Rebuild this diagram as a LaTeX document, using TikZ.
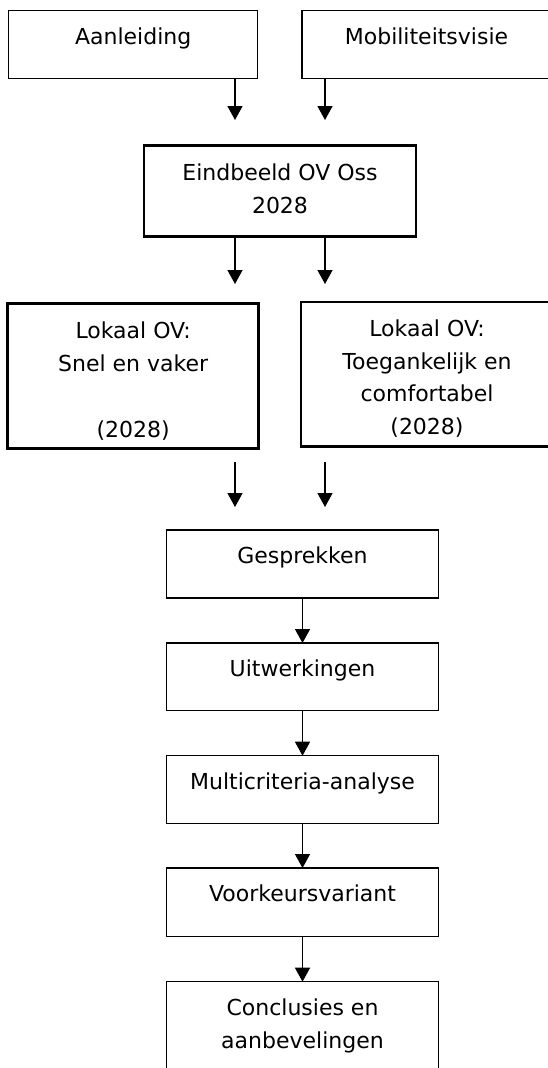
\documentclass[tikz,border=0pt]{standalone}
\usepackage{fontspec}
\setmainfont{DejaVu Sans}
\usetikzlibrary{arrows.meta}
\begin{document}
\begin{tikzpicture}[x=1pt,y=-1pt,
  thinbox/.style={draw, line width=1.4pt, inner sep=0pt, outer sep=0pt, anchor=north west},
  thickbox/.style={draw, line width=2.6pt, inner sep=0pt, outer sep=0pt, anchor=north west},
  lbl/.style={anchor=base, inner sep=0pt, font=\fontsize{22}{33}\selectfont},
  arr/.style={line width=1.4pt, -{Triangle[width=15pt,length=14pt]}}]
\useasboundingbox (0,0) rectangle (548,1068);
\clip (0,0) rectangle (548,1068);
% boxes
\node[thinbox, minimum width=249pt, minimum height=68pt] (aan) at (8.7,10.7) {};
\node[thinbox, minimum width=249pt, minimum height=68pt] (mob) at (302,10.7) {};
\node[thickbox, minimum width=272pt, minimum height=91pt] (ein) at (144,145.7) {};
\node[thickbox, minimum width=251pt, minimum height=145pt] (lok1) at (7.7,303.3) {};
\node[thickbox, minimum width=251pt, minimum height=144.7pt] (lok2) at (301,302) {};
\node[thinbox, minimum width=271.6pt, minimum height=68pt] (ges) at (166.7,530) {};
\node[thinbox, minimum width=271.6pt, minimum height=67.7pt] (uit) at (166.7,643) {};
\node[thinbox, minimum width=271.6pt, minimum height=67.6pt] (mca) at (166.7,755.7) {};
\node[thinbox, minimum width=271.6pt, minimum height=68.7pt] (vkv) at (166.7,868) {};
\node[thinbox, minimum width=271.6pt, minimum height=110pt] (con) at (166.7,981.7) {};
% texts
\node[lbl] (taan) at (133.2,44.3) {Aanleiding};
\node[lbl] (tmob) at (426.5,44.3) {Mobiliteitsvisie};
\node[lbl] (tein1) at (280,180) {Eindbeeld OV Oss};
\node[lbl] (tein2) at (280,213.3) {2028};
\node[lbl] (tl1a) at (133.2,338.3) {Lokaal OV:};
\node[lbl] (tl1b) at (133.2,371.5) {Snel en vaker};
\node[lbl] (tl1c) at (133.2,437.5) {(2028)};
\node[lbl] (tl2a) at (427,336.7) {Lokaal OV:};
\node[lbl] (tl2b) at (427,369.3) {Toegankelijk en};
\node[lbl] (tl2c) at (427,401.7) {comfortabel};
\node[lbl] (tl2d) at (427,434) {(2028)};
\node[lbl] (tges) at (302.5,563.3) {Gesprekken};
\node[lbl] (tuit) at (302.5,676.3) {Uitwerkingen};
\node[lbl] (tmca) at (302.5,789) {Multicriteria-analyse};
\node[lbl] (tvkv) at (302.5,901.5) {Voorkeursvariant};
\node[lbl] (tcon1) at (302.5,1015) {Conclusies en};
\node[lbl] (tcon2) at (302.5,1048) {aanbevelingen};
% free arrow ends
\coordinate (a1) at (235,120);
\coordinate (a2) at (325,120);
\coordinate (b1) at (235,284);
\coordinate (b2) at (325,284);
\coordinate (c1s) at (235,462);
\coordinate (c1e) at (235,507);
\coordinate (c2s) at (325,462);
\coordinate (c2e) at (325,507);
% arrows
\draw[arr] (aan.south -| a1) -- (a1);
\draw[arr] (mob.south -| a2) -- (a2);
\draw[arr] (ein.south -| b1) -- (b1);
\draw[arr] (ein.south -| b2) -- (b2);
\draw[arr] (c1s) -- (c1e);
\draw[arr] (c2s) -- (c2e);
\draw[arr] (ges) -- (uit);
\draw[arr] (uit) -- (mca);
\draw[arr] (mca) -- (vkv);
\draw[arr] (vkv) -- (con);
\end{tikzpicture}
\end{document}
